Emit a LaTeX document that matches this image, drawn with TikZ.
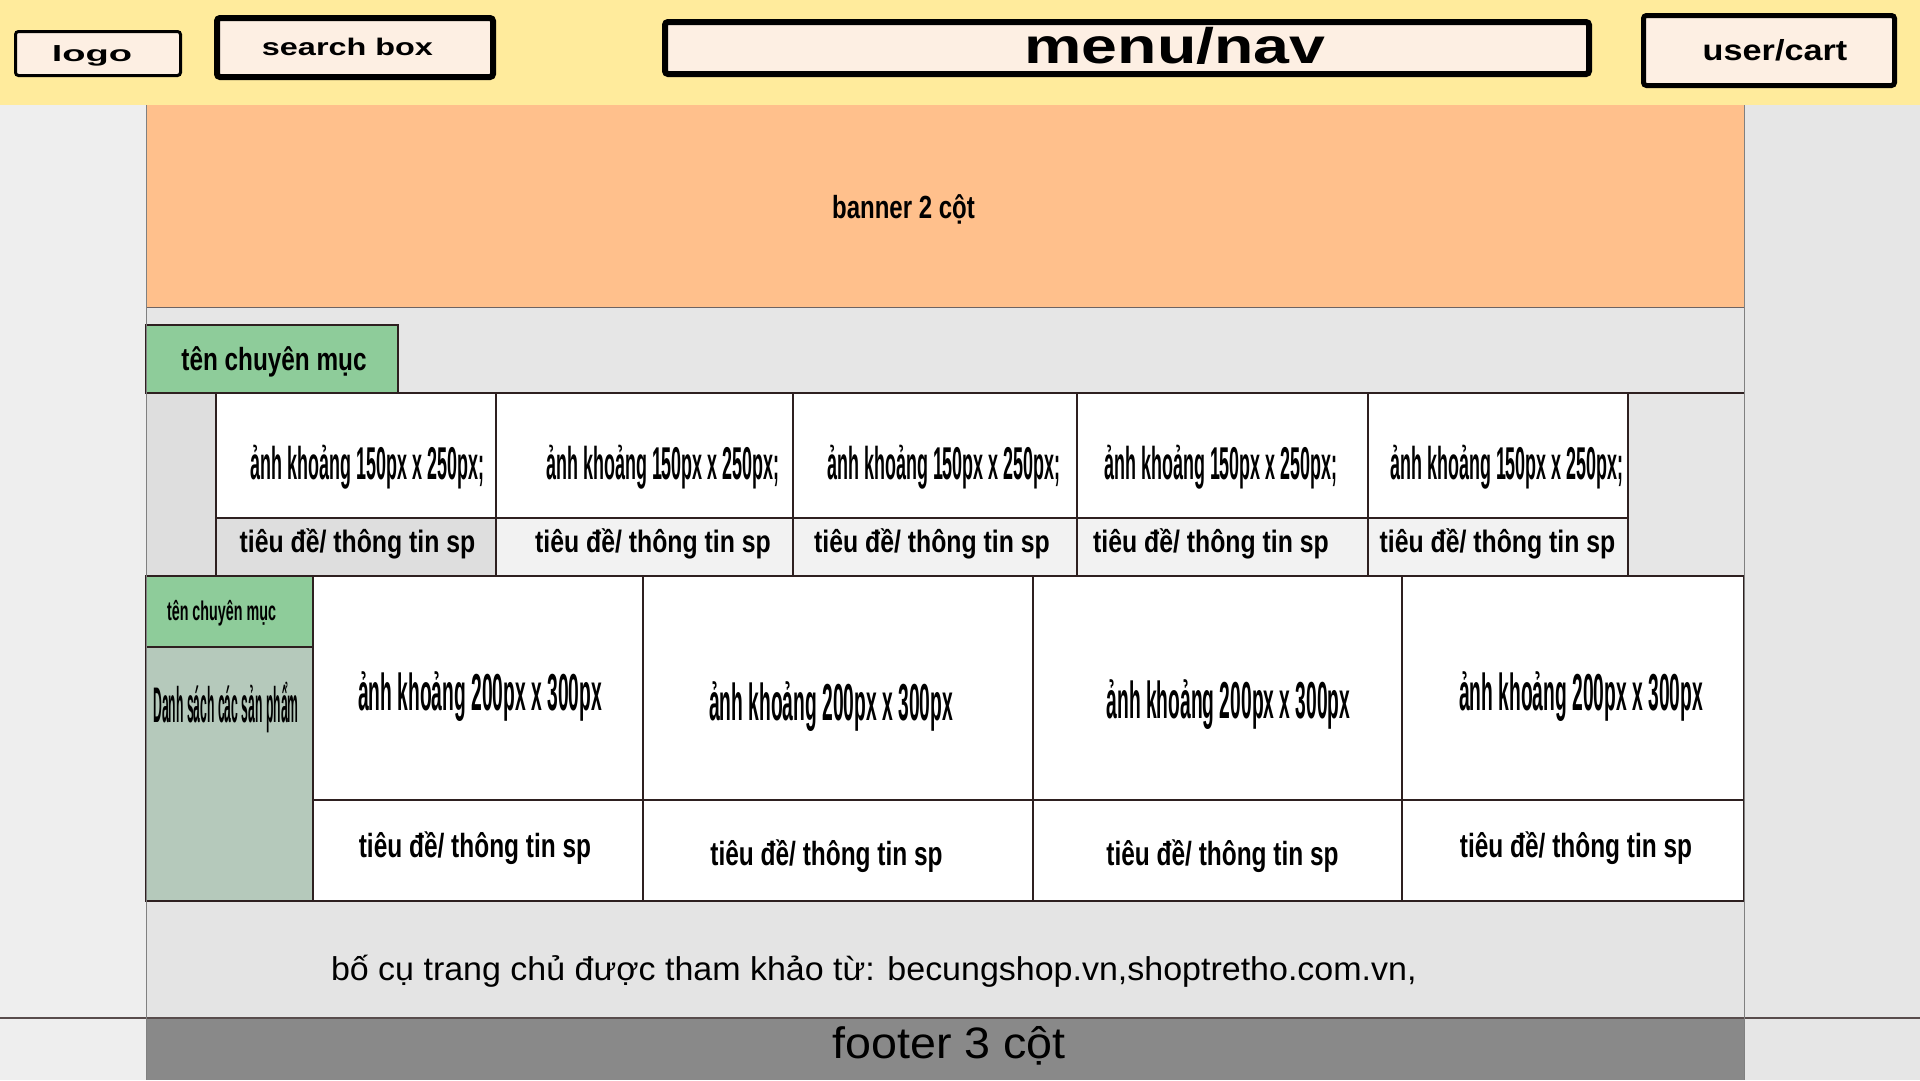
\documentclass[tikz,border=0pt]{standalone}
\usepackage{fontspec}
\setmainfont{Liberation Sans}
\usetikzlibrary{positioning}

\definecolor{hdryellow}{HTML}{FFEB9C}
\definecolor{boxcream}{HTML}{FDEFE3}
\definecolor{bannerorange}{HTML}{FFC08C}
\definecolor{catgreen}{HTML}{8ECC9A}
\definecolor{listsage}{HTML}{B5C9BB}
\definecolor{bandgray}{HTML}{E6E6E6}
\definecolor{stripgray}{HTML}{DEDEDE}
\definecolor{rowgray}{HTML}{F2F2F2}
\definecolor{notegray}{HTML}{E4E4E4}
\definecolor{footgray}{HTML}{898989}
\definecolor{leftgray}{HTML}{EEEEEE}
\definecolor{rightgray}{HTML}{E6E6E6}
\definecolor{gridline}{HTML}{2E2020}

% squeeze text sideways
\newcommand{\hsq}[2]{\scalebox{#1}[1]{#2}}

\begin{document}
\begin{tikzpicture}[x=1pt, y=-1pt,
  every node/.style={inner sep=0pt, outer sep=0pt},
  box/.style={anchor=north west, draw=gridline, line width=1.3pt},
  area/.style={anchor=north west},
  hdrbox/.style={anchor=north west, draw=black, fill=boxcream, rounded corners=3pt},
  lbl/.style={anchor=base, font=\bfseries\fontsize{#1}{#1}\selectfont},
  plain/.style={anchor=base, font=\fontsize{#1}{#1}\selectfont}]
  \useasboundingbox (0,0) rectangle (1920,1080);

  % margins and header
  \fill[leftgray] (0,0) rectangle (146,1080);
  \fill[rightgray] (1744,0) rectangle (1920,1080);
  \fill[hdryellow] (0,0) rectangle (1920,105);
  \node[hdrbox, line width=3pt, minimum width=165, minimum height=44] (logo) at (15.5,31.5) {};
  \node[hdrbox, line width=6pt, minimum width=276, minimum height=59] (search) at (217,18) {};
  \node[hdrbox, line width=6pt, minimum width=924, minimum height=52] (menu) at (665,22) {};
  \node[hdrbox, line width=5pt, minimum width=251, minimum height=70] (user) at (1643.5,15.5) {};
  \node[lbl=22] (logotxt) at (92,61) {\hsq{1.73}{logo}};
  \node[lbl=24] (searchtxt) at (347.5,55) {\hsq{1.35}{search box}};
  \node[lbl=50] (menutxt) at (1175,63) {\hsq{1.29}{menu/nav}};
  \node[lbl=29] (usertxt) at (1775,60) {\hsq{1.18}{user/cart}};

  % banner
  \node[area, fill=bannerorange, minimum width=1598, minimum height=202] (banner) at (146,105) {};
  \node[lbl=32] (bannertxt) at (903.5,218) {\hsq{0.75}{banner 2 cột}};

  % first category
  \node[area, fill=bandgray, minimum width=1598, minimum height=269] (band) at (146,307) {};
  \draw[gridline!70, line width=1pt] (banner.south west) -- (banner.south east);
  \node[box, fill=catgreen, minimum width=252, minimum height=68] (cat1) at (146,325) {};
  \node[lbl=32] (cat1txt) at (274,370) {\hsq{0.76}{tên chuyên mục}};
  \node[area, fill=stripgray, minimum width=70, minimum height=183] (strip) at (146,393) {};
  \foreach \l/\w/\a/\t/\c [count=\i] in {216/280/367.5/357.5/stripgray, 496/297/663/653/rowgray,
      793/284/944/932/rowgray, 1077/291/1221/1211/rowgray, 1368/260/1507/1497.5/rowgray} {
    \node[box, fill=white, minimum width=\w, minimum height=125] (pic\i) at (\l,393) {};
    \node[box, fill=\c, minimum width=\w, minimum height=58] (info\i) at (\l,518) {};
    \node[lbl=46] (pictxt\i) at (\a,479) {\hsq{0.39}{ảnh khoảng 150px x 250px;}};
    \node[lbl=31] (infotxt\i) at (\t,552) {\hsq{0.80}{tiêu đề/ thông tin sp}};
  }
  \draw[gridline, line width=1.3pt] (146,393) -- (1744,393);

  % second category
  \node[box, fill=catgreen, minimum width=167, minimum height=71] (cat2) at (146,576) {};
  \node[box, fill=listsage, minimum width=167, minimum height=254] (list) at (146,647) {};
  \node[lbl=27] (cat2txt) at (221.5,620) {\hsq{0.53}{tên chuyên mục}};
  \node[lbl=50] (listtxt) at (226,722) {\hsq{0.243}{Danh sách các sản phẩm}};
  \foreach \l/\w/\a/\ya/\t/\yt [count=\i] in {313/330/480/710/475/857, 643/390/831/720/826.5/865,
      1033/369/1228.5/718/1222.5/865, 1402/342/1581/710/1576/857} {
    \node[box, fill=white, minimum width=\w, minimum height=224] (big\i) at (\l,576) {};
    \node[box, fill=white, minimum width=\w, minimum height=101] (bigi\i) at (\l,800) {};
    \node[lbl=52] (bigtxt\i) at (\a,\ya) {\hsq{0.37}{ảnh khoảng 200px x 300px}};
    \node[lbl=33.5] (bigitxt\i) at (\t,\yt) {\hsq{0.73}{tiêu đề/ thông tin sp}};
  }

  % note and footer
  \node[area, fill=notegray, minimum width=1598, minimum height=117] (note) at (146,901) {};
  \node[plain=33, anchor=base west] (notetxt) at (331,980)
    {\hsq{1.03}{bố cụ trang chủ được tham khảo từ: becungshop.vn,shoptretho.com.vn,}};
  \node[area, fill=footgray, minimum width=1598, minimum height=62] (footer) at (146,1018) {};
  \node[plain=44] (footertxt) at (949,1058) {\hsq{1.06}{footer 3 cột}};
  \draw[gridline, line width=1.3pt] (146,901) -- (1744,901);
  \draw[gridline!80, line width=1.3pt] (0,1018) -- (1920,1018);
  \draw[gray, line width=1pt] (146,105) -- (146,1080) (1744,105) -- (1744,1080);
\end{tikzpicture}
\end{document}
